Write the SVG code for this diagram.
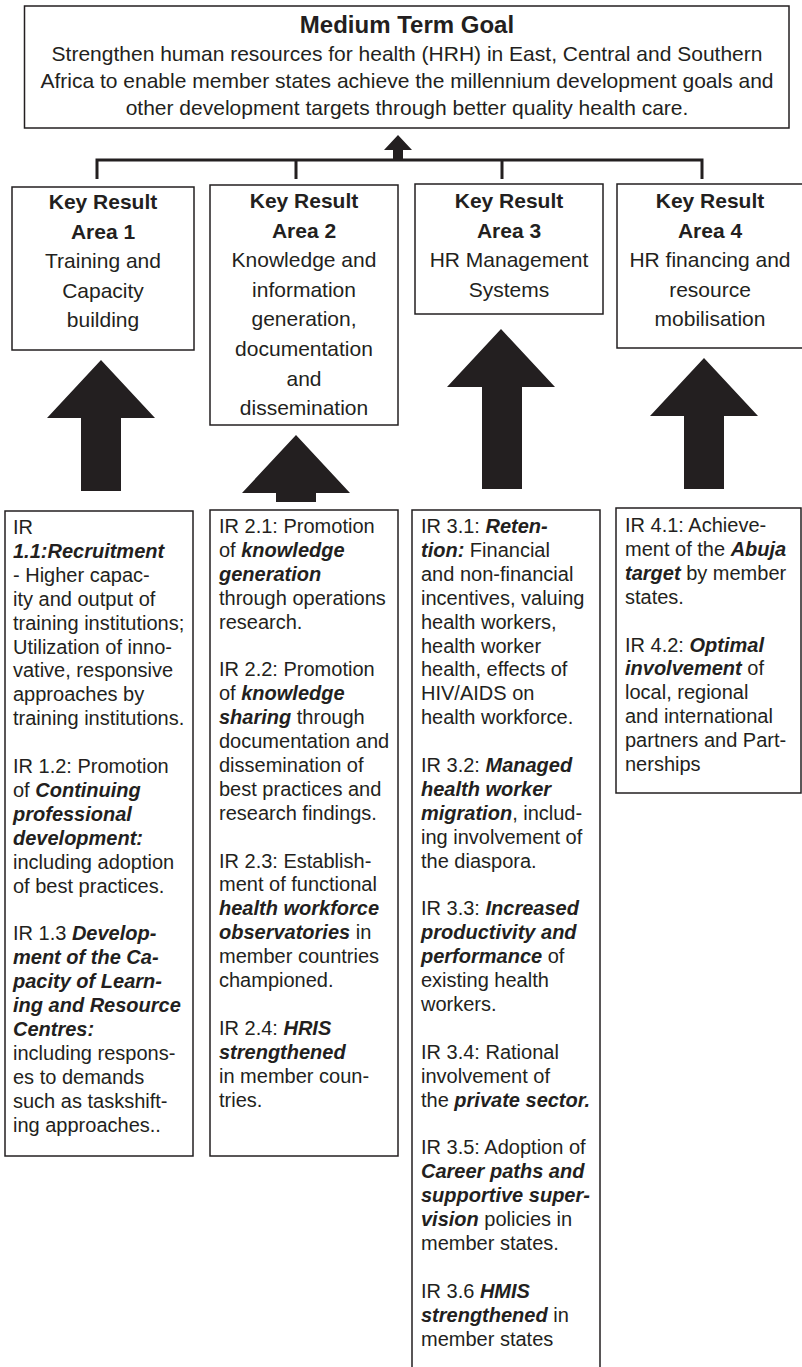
<svg xmlns="http://www.w3.org/2000/svg" width="802" height="1367" viewBox="0 0 802 1367">
<style>
text{font-family:"Liberation Sans",Arial,sans-serif;fill:#231f20}
.box{fill:#fff;stroke:#231f20;stroke-width:1.5}
.title{font-size:24px;font-weight:bold;text-anchor:middle}
.goal{font-size:21px;text-anchor:middle}
.kr{font-size:21px;text-anchor:middle}
.b{font-weight:bold}
.ir{font-size:20px}
.bi{font-weight:bold;font-style:italic}
.line{fill:none;stroke:#231f20;stroke-width:3}
.arrow{fill:#231f20}
</style>
<rect width="802" height="1367" fill="#fff"/>
<g id="connectors">
<path class="line" d="M97,179 V160 H702 V179 M296,160 V179 M502,160 V179"/>
<polygon class="arrow" points="398,135 412,150 403,150 403,160 393,160 393,150 384,150"/>
<polygon class="arrow" points="101,360 155,418 121,418 121,491 81,491 81,418 47,418"/>
<polygon class="arrow" points="296,435 350,493 316,493 316,502 276,502 276,493 242,493"/>
<polygon class="arrow" points="501,329 555,387 522,387 522,489 482,489 482,387 447,387"/>
<polygon class="arrow" points="704,358 758,416 724,416 724,489 684,489 684,416 650,416"/>
</g>
<g id="goal">
<rect class="box" x="24.5" y="6" width="764.5" height="122"/>
<text class="title" x="407" y="33">Medium Term Goal</text>
<text class="goal" x="407" y="61">Strengthen human resources for health (HRH) in East, Central and Southern</text>
<text class="goal" x="407" y="88">Africa to enable member states achieve the millennium development goals and</text>
<text class="goal" x="407" y="115">other development targets through better quality health care.</text>
</g>
<g id="kr1">
<rect class="box" x="12" y="187" width="182" height="163"/>
<text class="kr" x="103"><tspan class="b" x="103" y="209">Key Result</tspan><tspan class="b" x="103" y="238.6">Area 1</tspan><tspan x="103" y="268.2">Training and</tspan><tspan x="103" y="297.8">Capacity</tspan><tspan x="103" y="327.4">building</tspan></text>
</g>
<g id="kr2">
<rect class="box" x="210" y="185" width="188" height="240"/>
<text class="kr" x="304"><tspan class="b" x="304" y="208">Key Result</tspan><tspan class="b" x="304" y="237.6">Area 2</tspan><tspan x="304" y="267.2">Knowledge and</tspan><tspan x="304" y="296.8">information</tspan><tspan x="304" y="326.4">generation,</tspan><tspan x="304" y="356">documentation</tspan><tspan x="304" y="385.6">and</tspan><tspan x="304" y="415.2">dissemination</tspan></text>
</g>
<g id="kr3">
<rect class="box" x="415" y="184" width="188" height="130"/>
<text class="kr" x="509"><tspan class="b" x="509" y="208">Key Result</tspan><tspan class="b" x="509" y="237.6">Area 3</tspan><tspan x="509" y="267.2">HR Management</tspan><tspan x="509" y="296.8">Systems</tspan></text>
</g>
<g id="kr4">
<rect class="box" x="617" y="184" width="187" height="164"/>
<text class="kr" x="710"><tspan class="b" x="710" y="208">Key Result</tspan><tspan class="b" x="710" y="237.6">Area 4</tspan><tspan x="710" y="267.2">HR financing and</tspan><tspan x="710" y="296.8">resource</tspan><tspan x="710" y="326.4">mobilisation</tspan></text>
</g>
<g id="ir1">
<rect class="box" x="5" y="511" width="188" height="645"/>
<text class="ir" x="13" y="534"><tspan x="13" y="534">IR</tspan><tspan x="13" dy="23.9" class="bi">1.1:Recruitment</tspan><tspan x="13" dy="23.9">- Higher capac-</tspan><tspan x="13" dy="23.9">ity and output of</tspan><tspan x="13" dy="23.9">training institutions;</tspan><tspan x="13" dy="23.9">Utilization of inno-</tspan><tspan x="13" dy="23.9">vative, responsive</tspan><tspan x="13" dy="23.9">approaches by</tspan><tspan x="13" dy="23.9">training institutions.</tspan><tspan x="13" dy="47.8">IR 1.2: Promotion</tspan><tspan x="13" dy="23.9">of <tspan class="bi">Continuing</tspan></tspan><tspan x="13" dy="23.9" class="bi">professional</tspan><tspan x="13" dy="23.9" class="bi">development:</tspan><tspan x="13" dy="23.9">including adoption</tspan><tspan x="13" dy="23.9">of best practices.</tspan><tspan x="13" dy="47.8">IR 1.3 <tspan class="bi">Develop-</tspan></tspan><tspan x="13" dy="23.9" class="bi">ment of the Ca-</tspan><tspan x="13" dy="23.9" class="bi">pacity of Learn-</tspan><tspan x="13" dy="23.9" class="bi">ing and Resource</tspan><tspan x="13" dy="23.9" class="bi">Centres:</tspan><tspan x="13" dy="23.9">including respons-</tspan><tspan x="13" dy="23.9">es to demands</tspan><tspan x="13" dy="23.9">such as taskshift-</tspan><tspan x="13" dy="23.9">ing approaches..</tspan></text>
</g>
<g id="ir2">
<rect class="box" x="210" y="510" width="188" height="646"/>
<text class="ir" x="219" y="533"><tspan x="219" y="533">IR 2.1: Promotion</tspan><tspan x="219" dy="23.9">of <tspan class="bi">knowledge</tspan></tspan><tspan x="219" dy="23.9" class="bi">generation</tspan><tspan x="219" dy="23.9">through operations</tspan><tspan x="219" dy="23.9">research.</tspan><tspan x="219" dy="47.8">IR 2.2: Promotion</tspan><tspan x="219" dy="23.9">of <tspan class="bi">knowledge</tspan></tspan><tspan x="219" dy="23.9"><tspan class="bi">sharing</tspan> through</tspan><tspan x="219" dy="23.9">documentation and</tspan><tspan x="219" dy="23.9">dissemination of</tspan><tspan x="219" dy="23.9">best practices and</tspan><tspan x="219" dy="23.9">research findings.</tspan><tspan x="219" dy="47.8">IR 2.3: Establish-</tspan><tspan x="219" dy="23.9">ment of functional</tspan><tspan x="219" dy="23.9" class="bi">health workforce</tspan><tspan x="219" dy="23.9"><tspan class="bi">observatories</tspan> in</tspan><tspan x="219" dy="23.9">member countries</tspan><tspan x="219" dy="23.9">championed.</tspan><tspan x="219" dy="47.8">IR 2.4: <tspan class="bi">HRIS</tspan></tspan><tspan x="219" dy="23.9" class="bi">strengthened</tspan><tspan x="219" dy="23.9">in member coun-</tspan><tspan x="219" dy="23.9">tries.</tspan></text>
</g>
<g id="ir3">
<rect class="box" x="412" y="510" width="188" height="860"/>
<text class="ir" x="421" y="533"><tspan x="421" y="533">IR 3.1: <tspan class="bi">Reten-</tspan></tspan><tspan x="421" dy="23.9"><tspan class="bi">tion:</tspan> Financial</tspan><tspan x="421" dy="23.9">and non-financial</tspan><tspan x="421" dy="23.9">incentives, valuing</tspan><tspan x="421" dy="23.9">health workers,</tspan><tspan x="421" dy="23.9">health worker</tspan><tspan x="421" dy="23.9">health, effects of</tspan><tspan x="421" dy="23.9">HIV/AIDS on</tspan><tspan x="421" dy="23.9">health workforce.</tspan><tspan x="421" dy="47.8">IR 3.2: <tspan class="bi">Managed</tspan></tspan><tspan x="421" dy="23.9" class="bi">health worker</tspan><tspan x="421" dy="23.9"><tspan class="bi">migration</tspan>, includ-</tspan><tspan x="421" dy="23.9">ing involvement of</tspan><tspan x="421" dy="23.9">the diaspora.</tspan><tspan x="421" dy="47.8">IR 3.3: <tspan class="bi">Increased</tspan></tspan><tspan x="421" dy="23.9" class="bi">productivity and</tspan><tspan x="421" dy="23.9"><tspan class="bi">performance</tspan> of</tspan><tspan x="421" dy="23.9">existing health</tspan><tspan x="421" dy="23.9">workers.</tspan><tspan x="421" dy="47.8">IR 3.4: Rational</tspan><tspan x="421" dy="23.9">involvement of</tspan><tspan x="421" dy="23.9">the <tspan class="bi">private sector.</tspan></tspan><tspan x="421" dy="47.8">IR 3.5: Adoption of</tspan><tspan x="421" dy="23.9" class="bi">Career paths and</tspan><tspan x="421" dy="23.9" class="bi">supportive super-</tspan><tspan x="421" dy="23.9"><tspan class="bi">vision</tspan> policies in</tspan><tspan x="421" dy="23.9">member states.</tspan><tspan x="421" dy="47.8">IR 3.6 <tspan class="bi">HMIS</tspan></tspan><tspan x="421" dy="23.9"><tspan class="bi">strengthened</tspan> in</tspan><tspan x="421" dy="23.9">member states</tspan></text>
</g>
<g id="ir4">
<rect class="box" x="616" y="508" width="185" height="285"/>
<text class="ir" x="625" y="532"><tspan x="625" y="532">IR 4.1: Achieve-</tspan><tspan x="625" dy="23.9">ment of the <tspan class="bi">Abuja</tspan></tspan><tspan x="625" dy="23.9"><tspan class="bi">target</tspan> by member</tspan><tspan x="625" dy="23.9">states.</tspan><tspan x="625" dy="47.8">IR 4.2: <tspan class="bi">Optimal</tspan></tspan><tspan x="625" dy="23.9"><tspan class="bi">involvement</tspan> of</tspan><tspan x="625" dy="23.9">local, regional</tspan><tspan x="625" dy="23.9">and international</tspan><tspan x="625" dy="23.9">partners and Part-</tspan><tspan x="625" dy="23.9">nerships</tspan></text>
</g>
</svg>
